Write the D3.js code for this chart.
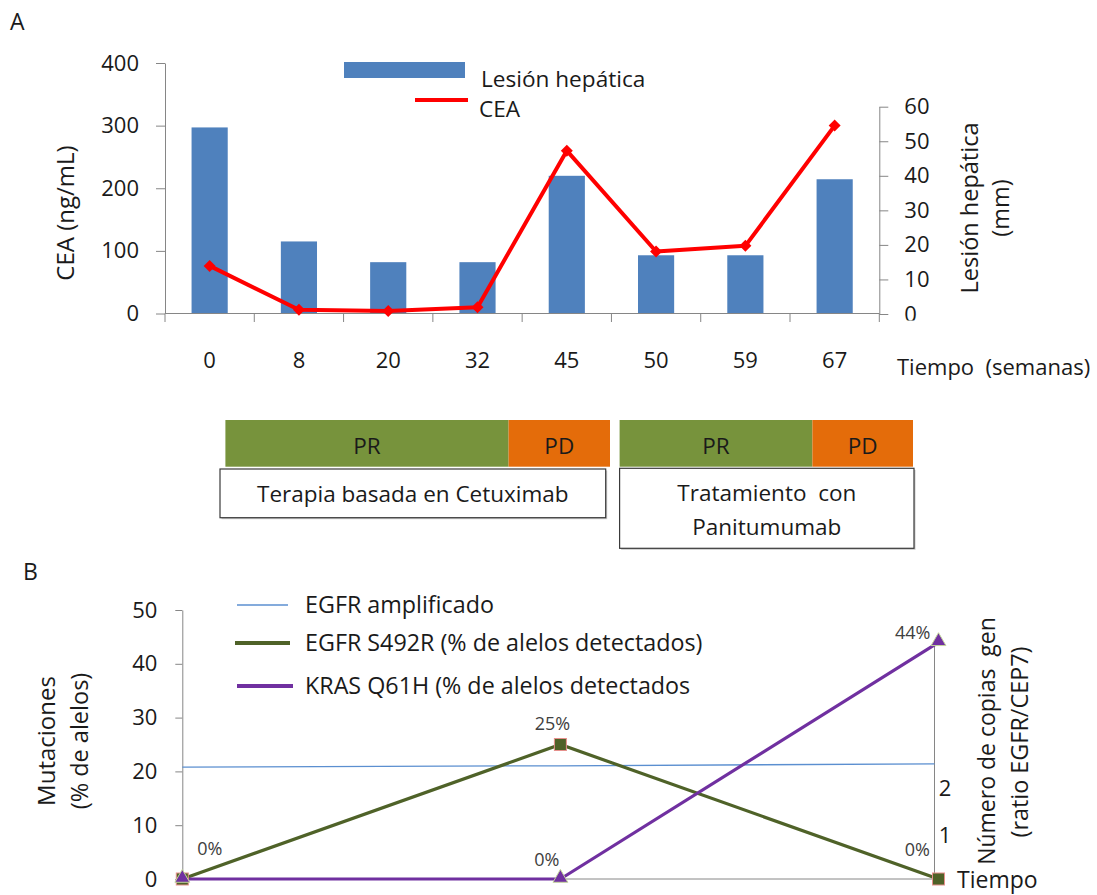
<!DOCTYPE html>
<html><head><meta charset="utf-8">
<script src="https://cdn.jsdelivr.net/npm/d3@7"></script>
<style>
body{margin:0;background:#fff}
svg{display:block}
text{font-family:"Open Sans",sans-serif;white-space:pre}
</style>
</head><body><svg id="c" width="1097" height="895"></svg>
<script>
// ---------- Data: panel A ----------
const weeks = ["0","8","20","32","45","50","59","67"];
const lesionMm = [54, 21, 15, 15, 40, 17, 17, 39];
const ceaNgMl = [76, 6, 4, 10, 260, 99, 108, 300];
const ceaTicks = [0, 100, 200, 300, 400];
const lesionTicks = [0, 10, 20, 30, 40, 50, 60];
const responseLabels = ["PR", "PD", "PR", "PD"];
const therapyLabels = [["Terapia basada en Cetuximab"], ["Tratamiento  con", "Panitumumab"]];

// ---------- Data: panel B ----------
const timepoints = ["t1", "t2", "t3"];
const egfrAmplified = [2.45, 2.48, 2.52];
const egfrS492R = [0, 25, 0];
const krasQ61H = [0, 0, 44];
const mutTicks = [0, 10, 20, 30, 40, 50];
const copyTicks = [1, 2];
const legendB = ["EGFR amplificado", "EGFR S492R (% de alelos detectados)", "KRAS Q61H (% de alelos detectados"];

const svg = d3.select("#c");
const AX = "#868686", TXT = "#1a1a1a", LBL = "#404040";
const FS = 22, FT = 23.5;

function styleAxis(g) {
  g.select(".domain").attr("stroke", AX);
  g.selectAll(".tick line").attr("stroke", AX);
  g.selectAll(".tick text").attr("fill", TXT).attr("font-size", FS).attr("font-family", '"Open Sans",sans-serif');
}
function title(x, y, t, fs) {
  svg.append("text").attr("transform", `translate(${x},${y}) rotate(-90)`).attr("dy", "0.35em")
    .attr("text-anchor", "middle").attr("font-size", fs || FT).attr("fill", TXT).text(t);
}

// ================= PANEL A =================
svg.append("text").attr("x", 10).attr("y", 30).attr("font-size", 23).attr("fill", TXT).text("A");

const xA = d3.scaleBand().domain(weeks).range([165, 879.3]).padding(0);
const yL = d3.scaleLinear().domain([0, 400]).range([313.5, 63]);
const yR = d3.scaleLinear().domain([0, 60]).range([314, 106.7]);
const bw = xA.bandwidth(), barW = bw * 0.405;

// bars
svg.append("g").selectAll("rect").data(weeks).join("rect")
  .attr("x", d => xA(d) + (bw - barW) / 2)
  .attr("width", barW)
  .attr("y", (d, i) => yR(lesionMm[i]))
  .attr("height", (d, i) => yR(0) - yR(lesionMm[i]))
  .attr("fill", "#4F81BD");

// left axis
const gL = svg.append("g").attr("transform", "translate(165,0)")
  .call(d3.axisLeft(yL).tickValues(ceaTicks).tickSize(9).tickPadding(17).tickSizeOuter(0));
styleAxis(gL);

// right axis
const gR = svg.append("g").attr("transform", "translate(879.3,0)")
  .call(d3.axisRight(yR).tickValues(lesionTicks).tickSize(9).tickPadding(16).tickSizeOuter(0));
styleAxis(gR);
svg.append("clipPath").attr("id", "clip0").append("rect").attr("x", 0).attr("y", -30).attr("width", 100).attr("height", 36);
gR.selectAll(".tick").filter(d => d === 0).select("text").attr("clip-path", "url(#clip0)");

// bottom axis
const bounds = weeks.map(w => xA(w)).concat([xA.range()[1]]);
svg.append("line").attr("x1", xA.range()[0]).attr("x2", xA.range()[1]).attr("y1", 313.5).attr("y2", 313.5).attr("stroke", AX);
svg.append("g").selectAll("line").data(bounds).join("line")
  .attr("x1", d => d).attr("x2", d => d).attr("y1", 313.5).attr("y2", 322).attr("stroke", AX);
svg.append("g").selectAll("text").data(weeks).join("text")
  .attr("x", d => xA(d) + bw / 2).attr("y", 360).attr("dy", "0.35em")
  .attr("text-anchor", "middle").attr("font-size", FS).attr("fill", TXT).text(d => d);

// CEA line
const line = d3.line().x((d, i) => xA(weeks[i]) + bw / 2).y(d => yL(d));
svg.append("path").datum(ceaNgMl).attr("d", line).attr("fill", "none").attr("stroke", "#FF0000").attr("stroke-width", 4).attr("stroke-linejoin", "round");
svg.append("g").selectAll("path").data(ceaNgMl).join("path")
  .attr("d", d3.symbol(d3.symbolSquare, 72)())
  .attr("transform", (d, i) => `translate(${xA(weeks[i]) + bw / 2},${yL(d)}) rotate(45)`)
  .attr("fill", "#FF0000");

// axis titles
title(66, 213, "CEA (ng/mL)", 24);
title(970, 208, "Lesión hepática");
title(1001, 208, "(mm)");
svg.append("text").attr("x", 897).attr("y", 367).attr("dy", "0.35em").attr("font-size", FS).attr("fill", TXT).text("Tiempo  (semanas)");

// legend A
svg.append("rect").attr("x", 344).attr("y", 62).attr("width", 121).attr("height", 16).attr("fill", "#4F81BD");
svg.append("text").attr("x", 481).attr("y", 79).attr("dy", "0.35em").attr("font-size", 22.6).attr("fill", TXT).text("Lesión hepática");
svg.append("line").attr("x1", 415).attr("x2", 468).attr("y1", 100).attr("y2", 100).attr("stroke", "#FF0000").attr("stroke-width", 4);
svg.append("text").attr("x", 479).attr("y", 109).attr("dy", "0.35em").attr("font-size", 22.6).attr("fill", TXT).text("CEA");

// response / therapy boxes
const respBoxes = [
  {x0: 225.4, x1: 508.6, c: "#77933C"}, {x0: 508.6, x1: 610, c: "#E46C0A"},
  {x0: 619.6, x1: 812.4, c: "#77933C"}, {x0: 812.4, x1: 913, c: "#E46C0A"}
];
respBoxes.forEach((b, i) => {
  svg.append("rect").attr("x", b.x0).attr("y", 420).attr("width", b.x1 - b.x0).attr("height", 46.7).attr("fill", b.c);
  svg.append("text").attr("x", (b.x0 + b.x1) / 2).attr("y", 446.5).attr("dy", "0.35em").attr("text-anchor", "middle")
    .attr("font-size", 22.5).attr("fill", TXT).text(responseLabels[i]);
});
const therBoxes = [{x0: 220, x1: 605.7, y0: 469, y1: 517.7}, {x0: 619.6, x1: 914, y0: 468.3, y1: 548.3}];
therBoxes.forEach((b, i) => {
  svg.append("rect").attr("x", b.x0 + 1.5).attr("y", b.y0 + 1.5).attr("width", b.x1 - b.x0).attr("height", b.y1 - b.y0).attr("fill", "#c8c8c8");
  svg.append("rect").attr("x", b.x0).attr("y", b.y0).attr("width", b.x1 - b.x0).attr("height", b.y1 - b.y0)
    .attr("fill", "#fff").attr("stroke", "#3a3a3a").attr("stroke-width", 1.2);
  therapyLabels[i].forEach((t, j) => {
    svg.append("text").attr("x", (b.x0 + b.x1) / 2).attr("y", (i === 0 ? 494 : 493 + j * 33.7)).attr("dy", "0.35em")
      .attr("text-anchor", "middle").attr("font-size", 22.5).attr("fill", TXT).text(t);
  });
});

// ================= PANEL B =================
svg.append("text").attr("x", 23).attr("y", 580).attr("font-size", 23).attr("fill", TXT).text("B");

const xB = d3.scalePoint().domain(timepoints).range([182.3, 938.5]);
const yB = d3.scaleLinear().domain([0, 50]).range([879, 610]);
const yC = d3.scaleLinear().domain([0, 5.1]).range([882, 643]);
const xRightAxis = 934.5;

const gBL = svg.append("g").attr("transform", "translate(182.3,0)")
  .call(d3.axisLeft(yB).tickValues(mutTicks).tickSize(7).tickPadding(18).tickSizeOuter(0));
styleAxis(gBL);

// right axis: line + labels only
svg.append("line").attr("x1", xRightAxis).attr("x2", xRightAxis).attr("y1", yC(5.1)).attr("y2", yB(0)).attr("stroke", AX);
svg.append("g").selectAll("text").data(copyTicks).join("text")
  .attr("x", 938.7).attr("y", d => yC(d)).attr("dy", "0.35em").attr("font-size", FS).attr("fill", TXT).text(d => d);

// x axis
svg.append("line").attr("x1", 182.3).attr("x2", xRightAxis).attr("y1", yB(0)).attr("y2", yB(0)).attr("stroke", AX);
svg.append("text").attr("x", 957).attr("y", 880).attr("dy", "0.35em").attr("font-size", 23).attr("fill", TXT).text("Tiempo");

// series
const xAmp = d3.scalePoint().domain(timepoints).range([182.3, xRightAxis]);
const lineAmp = d3.line().x((d, i) => xAmp(timepoints[i])).y(d => yC(d));
svg.append("path").datum(egfrAmplified).attr("d", lineAmp).attr("fill", "none").attr("stroke", "#5B8FD0").attr("stroke-width", 1.3);
const lineMut = d3.line().x((d, i) => xB(timepoints[i])).y(d => yB(d));
svg.append("path").datum(egfrS492R).attr("d", lineMut).attr("fill", "none").attr("stroke", "#4F6228").attr("stroke-width", 3.2);
svg.append("path").datum(krasQ61H).attr("d", lineMut).attr("fill", "none").attr("stroke", "#7030A0").attr("stroke-width", 3.2);

svg.append("g").selectAll("rect").data(egfrS492R).join("rect")
  .attr("x", (d, i) => xB(timepoints[i]) - 6).attr("y", d => yB(d) - 6).attr("width", 12).attr("height", 12)
  .attr("fill", "#4F6228").attr("stroke", "#E6908C").attr("stroke-width", 1);
svg.append("g").selectAll("path").data(krasQ61H).join("path")
  .attr("d", d3.symbol(d3.symbolTriangle, 95)())
  .attr("transform", (d, i) => `translate(${xB(timepoints[i])},${yB(d) - 1})`)
  .attr("fill", "#7030A0").attr("stroke", "#C3D69B").attr("stroke-width", 1);

// data labels
const dl = (x, y, anchor, t) => svg.append("text").attr("x", x).attr("y", y).attr("dy", "0.35em")
  .attr("text-anchor", anchor).attr("font-size", 18).attr("fill", LBL).text(t);
dl(xB("t1") + 15, 849, "start", egfrS492R[0] + "%");
dl(xB("t2") - 8, 724, "middle", egfrS492R[1] + "%");
dl(xB("t2") - 1, 860, "end", krasQ61H[1] + "%");
dl(930.5, 633, "end", krasQ61H[2] + "%");
dl(930, 850, "end", egfrS492R[2] + "%");

// legend B
const legY = [605, 643, 686];
const legSt = [{c: "#5B8FD0", w: 1.3, x0: 237, x1: 288}, {c: "#4F6228", w: 4, x0: 235, x1: 290}, {c: "#7030A0", w: 4, x0: 237, x1: 293}];
legendB.forEach((t, i) => {
  svg.append("line").attr("x1", legSt[i].x0).attr("x2", legSt[i].x1).attr("y1", legY[i]).attr("y2", legY[i])
    .attr("stroke", legSt[i].c).attr("stroke-width", legSt[i].w);
  svg.append("text").attr("x", 305).attr("y", legY[i]).attr("dy", "0.35em").attr("font-size", 23.3).attr("fill", TXT).text(t);
});

// titles B
title(46.5, 741, "Mutaciones", 24);
title(80, 741, "(% de alelos)");
title(987, 741, "Número de copias  gen", 23);
title(1020, 742, "(ratio EGFR/CEP7)", 23.4);
</script></body></html>
